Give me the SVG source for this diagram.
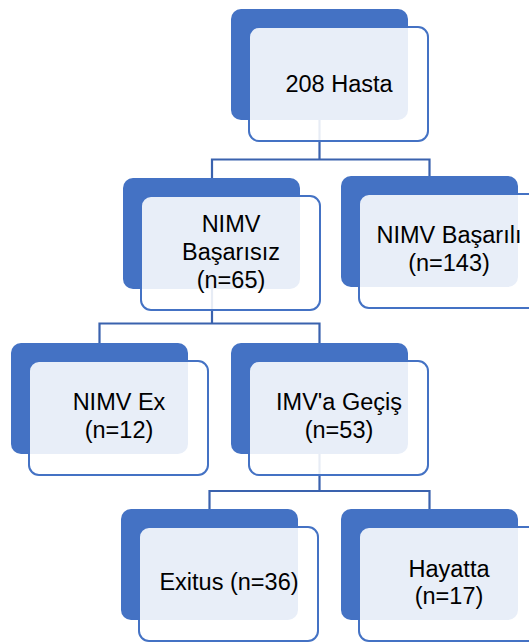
<svg xmlns="http://www.w3.org/2000/svg" width="529" height="642" viewBox="0 0 529 642">
<style>
.back{fill:#4472C4;}
.front{fill:#FFFFFF;fill-opacity:0.88;stroke:#4472C4;stroke-width:2;}
.conn{fill:none;stroke:#3A62AE;stroke-width:2.2;}
text{font-family:"Liberation Sans",Arial,sans-serif;font-size:23.5px;fill:#000;text-anchor:middle;}
</style>
<rect width="529" height="642" fill="#FFFFFF"/>
<g id="connectors">
<path class="conn" d="M319.5 120 V159.5 H212 V178 M319.5 159.5 H429.5 V176"/>
<path class="conn" d="M212 289 V323.5 H99.5 V343 M212 323.5 H319.5 V343"/>
<path class="conn" d="M319.5 454 V491 H209.5 V509 M319.5 491 H429.5 V509"/>
</g>
<g id="node-208-hasta">
<rect class="back" x="231" y="9" width="177" height="111" rx="10"/>
<rect class="front" x="249" y="27" width="179" height="114" rx="10"/>
<text x="339" y="92">208 Hasta</text>
</g>
<g id="node-nimv-basarisiz">
<rect class="back" x="123" y="178" width="177" height="111" rx="10"/>
<rect class="front" x="141" y="196" width="179" height="114" rx="10"/>
<text x="231" y="232">NIMV</text>
<text x="231" y="260">Başarısız</text>
<text x="231" y="288">(n=65)</text>
</g>
<g id="node-nimv-basarili">
<rect class="back" x="341" y="176" width="177" height="111" rx="10"/>
<rect class="front" x="359" y="194" width="179" height="114" rx="10"/>
<text x="449" y="243">NIMV Başarılı</text>
<text x="449" y="271">(n=143)</text>
</g>
<g id="node-nimv-ex">
<rect class="back" x="11" y="343" width="177" height="111" rx="10"/>
<rect class="front" x="29" y="361" width="179" height="114" rx="10"/>
<text x="119" y="410">NIMV Ex</text>
<text x="119" y="438">(n=12)</text>
</g>
<g id="node-imv-gecis">
<rect class="back" x="231" y="343" width="177" height="111" rx="10"/>
<rect class="front" x="249" y="361" width="179" height="114" rx="10"/>
<text x="339" y="410">IMV'a Geçiş</text>
<text x="339" y="438">(n=53)</text>
</g>
<g id="node-exitus">
<rect class="back" x="121" y="509" width="177" height="111" rx="10"/>
<rect class="front" x="139" y="527" width="179" height="114" rx="10"/>
<text x="229" y="590">Exitus (n=36)</text>
</g>
<g id="node-hayatta">
<rect class="back" x="341" y="509" width="177" height="111" rx="10"/>
<rect class="front" x="359" y="527" width="179" height="114" rx="10"/>
<text x="449" y="577">Hayatta</text>
<text x="449" y="604">(n=17)</text>
</g>
</svg>
